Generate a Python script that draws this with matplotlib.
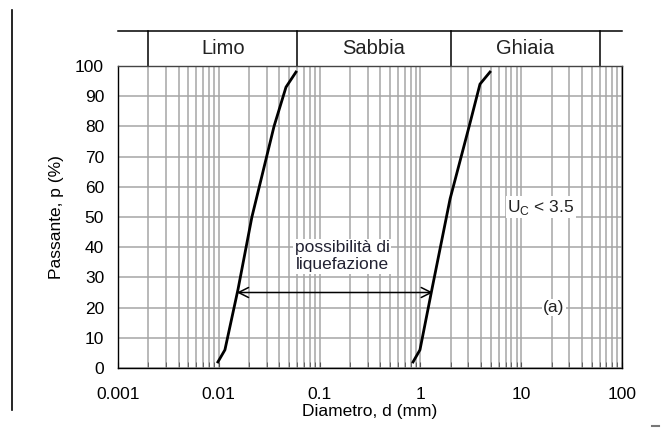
import matplotlib
matplotlib.use("Agg")
import matplotlib.pyplot as plt
import numpy as np
from matplotlib.lines import Line2D

plt.rcParams['font.family'] = ['Liberation Sans', 'DejaVu Sans']

# Data
left_d = [0.0098, 0.0115, 0.0155, 0.0213, 0.0353, 0.0464, 0.0583]
left_p = [2, 6, 26, 50, 80, 93, 98]
right_d = [0.845, 0.99, 1.30, 1.97, 3.1, 3.9, 4.9]
right_p = [2, 6, 26, 56, 81, 94, 98]

header_bounds = [0.002, 0.06, 2, 60]
header_labels = ["Limo", "Sabbia", "Ghiaia"]
xticks = [0.001, 0.01, 0.1, 1, 10, 100]
xtick_labels = ["0.001", "0.01", "0.1", "1", "10", "100"]
yticks = list(range(0, 101, 10))

arrow_p = 25
arrow_d = [0.0151, 1.33]

fig = plt.figure(figsize=(6.61, 4.38), dpi=100)
ax = fig.add_axes([118/661, 70/438, (622-118)/661, 302/438])
ax.set_xscale('log')
ax.set_xlim(0.001, 100)
ax.set_ylim(0, 100)

grid_c = '#a6a6a6'
ax.grid(True, which='both', axis='x', color=grid_c, lw=1.1)
ax.grid(True, which='major', axis='y', color=grid_c, lw=1.1)
ax.set_axisbelow(True)

ax.set_xticks(xticks)
ax.set_xticklabels(xtick_labels)
ax.set_yticks(yticks)
ax.tick_params(axis='x', which='both', direction='in', length=4, color='#555555', labelsize=12.5, pad=14)
ax.tick_params(axis='y', which='both', length=0, labelsize=12.5, pad=10)
for s in ax.spines.values():
    s.set_color('black')
    s.set_linewidth(1.0)
ax.spines['top'].set_color('#444444')

ax.plot(left_d, left_p, color='black', lw=2)
ax.plot(right_d, right_p, color='black', lw=2)

ax.annotate('', xy=(arrow_d[0], arrow_p), xytext=(arrow_d[1], arrow_p),
            arrowprops=dict(arrowstyle='<->', color='black', lw=1.1, mutation_scale=18,
                            shrinkA=0, shrinkB=0))

ax.text(0.167, 37, "possibilità di\nliquefazione", ha='center', va='center', fontsize=12.5,
        color='#222233', linespacing=1.15,
        bbox=dict(facecolor='white', edgecolor='none', pad=1))
ax.text(15.7, 53.3, r"U$_\mathregular{C}$ < 3.5", ha='center', va='center', fontsize=12.5,
        color='#222222', bbox=dict(facecolor='white', edgecolor='none', pad=1))
ax.text(21, 20, "(a)", ha='center', va='center', fontsize=12.5, color='#222222',
        bbox=dict(facecolor='white', edgecolor='none', pad=1))

ax.set_xlabel("Diametro, d (mm)", fontsize=12.5, labelpad=1)
ax.set_ylabel("Passante, p (%)", fontsize=12.5, labelpad=8)

# Header band
htop = 1 + 35/302
trans = ax.get_xaxis_transform()
ax.plot([0.001, 100], [htop, htop], transform=trans, color='black', lw=1.1, clip_on=False)
for b in header_bounds:
    ax.plot([b, b], [1, htop], transform=trans, color='black', lw=1.1, clip_on=False)
for i, lab in enumerate(header_labels):
    xc = np.sqrt(header_bounds[i] * header_bounds[i+1])
    ax.text(xc, (1 + htop) / 2, lab, transform=trans, ha='center', va='center', fontsize=14.5,
            color='#222222')

# page artifacts
fig.add_artist(Line2D([12/661, 12/661], [1 - 10/438, 1 - 410/438], color='black', lw=1.2))
fig.add_artist(Line2D([652/661, 659/661], [1 - 426/438, 1 - 426/438], color='#777777', lw=1.5))

fig.savefig("out.png", dpi=100)
